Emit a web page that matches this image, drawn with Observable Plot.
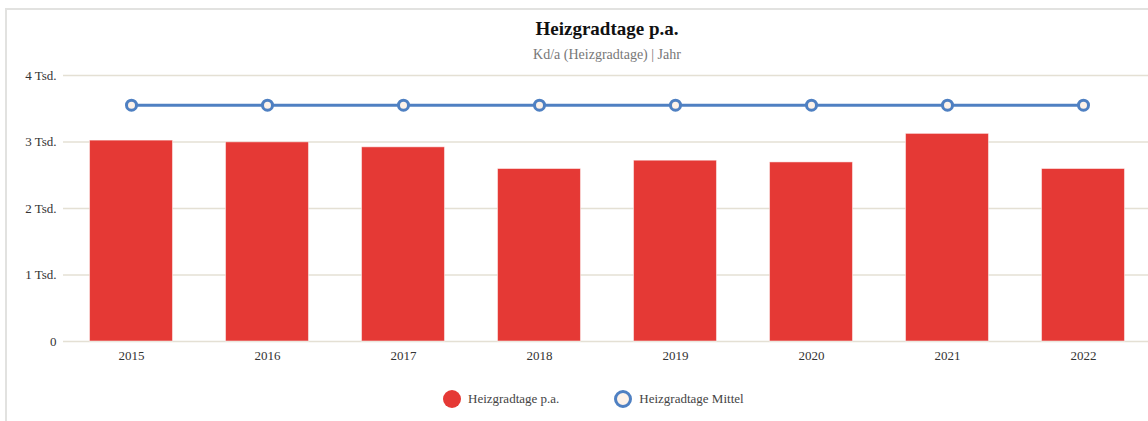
<!DOCTYPE html>
<html>
<head>
<meta charset="utf-8">
<script src="https://cdn.jsdelivr.net/npm/d3@7"></script>
<script src="https://cdn.jsdelivr.net/npm/@observablehq/plot@0.6"></script>
<style>
  html, body { margin: 0; padding: 0; background: #fff; overflow: hidden; }
  body { width: 1148px; height: 421px; position: relative; font-family: "Liberation Serif", "DejaVu Serif", serif; }
  #frame { position: absolute; left: 5px; top: 8px; width: 1300px; height: 500px; border-left: 2px solid #e2e2e0; border-top: 2px solid #e2e2e0; }
  #title { position: absolute; left: 0; width: 1214px; top: 18px; text-align: center; font-size: 19px; font-weight: bold; color: #111; }
  #subtitle { position: absolute; left: 0; width: 1214px; top: 47px; text-align: center; font-size: 14px; color: #777; }
  #chart { position: absolute; left: 0; top: 0; width: 1151px; }
  #chart svg { max-width: none !important; }
  #legend { position: absolute; top: 390px; left: 443px; display: flex; align-items: center; font-size: 13px; color: #444; }
  .item { display: flex; align-items: center; }
  .sw { width: 18px; height: 18px; border-radius: 50%; box-sizing: border-box; margin-right: 7px; }
</style>
</head>
<body>
<div id="frame"></div>
<div id="title">Heizgradtage p.a.</div>
<div id="subtitle">Kd/a (Heizgradtage) | Jahr</div>
<div id="chart"></div>
<div id="legend"></div>
<script>
const years = ["2015", "2016", "2017", "2018", "2019", "2020", "2021", "2022"];
const heizgradtage = [3021, 2995, 2920, 2594, 2719, 2693, 3122, 2594];
const mittel = [3554, 3554, 3554, 3554, 3554, 3554, 3554, 3554];
const yTicks = [0, 1000, 2000, 3000, 4000];
const seriesNames = ["Heizgradtage p.a.", "Heizgradtage Mittel"];

const barColor = "#e53935";
const lineColor = "#4f80c2";
const dotFill = "#fdf2e9";

const bars = years.map((y, i) => ({year: y, value: heizgradtage[i]}));
const mean = years.map((y, i) => ({year: y, value: mittel[i]}));

const plot = Plot.plot({
  width: 1151,
  height: 375,
  marginTop: 75,
  marginBottom: 34,
  marginLeft: 63,
  marginRight: 0,
  style: {fontFamily: "'Liberation Serif', 'DejaVu Serif', serif", fontSize: "13px", color: "#333", background: "transparent", maxWidth: "none"},
  x: {domain: years, paddingInner: 0.39, paddingOuter: 0.195, round: false, label: null},
  y: {domain: [0, 4000], label: null},
  marks: [
    Plot.ruleY(yTicks, {stroke: "#e4e0d4", strokeWidth: 1.5}),
    Plot.axisY({ticks: yTicks, tickSize: 0, tickPadding: 7, label: null,
      tickFormat: d => d === 0 ? "0" : (d / 1000) + " Tsd.", fill: "#333"}),
    Plot.axisX({tickSize: 0, tickPadding: 9, label: null, fill: "#333"}),
    Plot.barY(bars, {x: "year", y: "value", fill: barColor, stroke: "#fff", strokeOpacity: 0.5, strokeWidth: 1}),
    Plot.line(mean, {x: "year", y: "value", stroke: lineColor, strokeWidth: 3}),
    Plot.dot(mean, {x: "year", y: "value", r: 5, fill: dotFill, stroke: lineColor, strokeWidth: 3})
  ]
});
document.getElementById("chart").appendChild(plot);

const legend = document.getElementById("legend");
const styles = [
  {bg: barColor, border: "none", mr: "55px"},
  {bg: dotFill, border: `3px solid ${lineColor}`, mr: "0"}
];
seriesNames.forEach((name, i) => {
  const item = document.createElement("div");
  item.className = "item";
  item.style.marginRight = styles[i].mr;
  const sw = document.createElement("div");
  sw.className = "sw";
  sw.style.background = styles[i].bg;
  sw.style.border = styles[i].border;
  item.appendChild(sw);
  const t = document.createElement("span");
  t.textContent = name;
  item.appendChild(t);
  legend.appendChild(item);
});
</script>
</body>
</html>
